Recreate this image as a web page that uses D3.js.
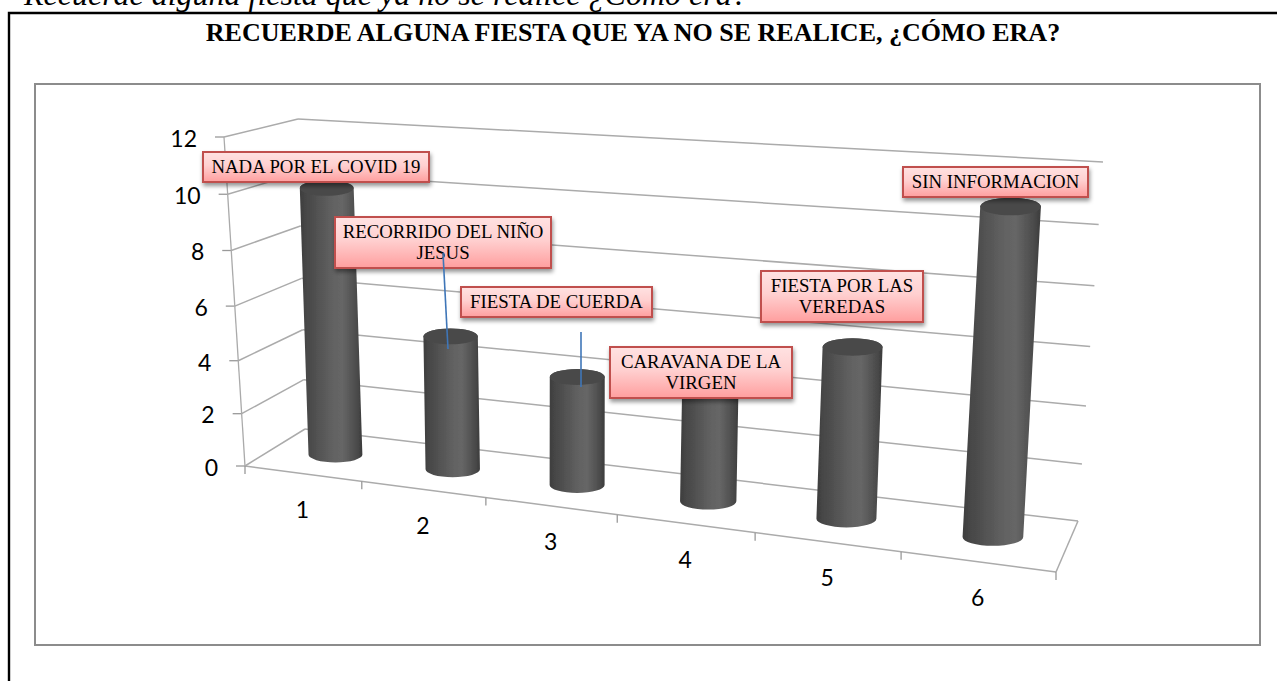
<!DOCTYPE html>
<html><head><meta charset="utf-8">
<script src="https://cdn.jsdelivr.net/npm/d3@7"></script>
<style>html,body{margin:0;padding:0;background:#fff;overflow:hidden}svg{display:block}</style>
</head><body><div id="c"></div>
<script>
// ---- data ----
const categories = ["1","2","3","4","5","6"];
const values = [10,5,4,4,6,11];
const valueTicks = [0,2,4,6,8,10,12];
const labelLines = [
  ["NADA POR EL COVID 19"],
  ["RECORRIDO DEL NIÑO","JESUS"],
  ["FIESTA DE CUERDA"],
  ["CARAVANA DE LA","VIRGEN"],
  ["FIESTA POR LAS","VEREDAS"],
  ["SIN INFORMACION"]
];
const pageHeading = "Recuerde alguna fiesta que ya no se realice ¿Cómo era?";
const chartTitle = "RECUERDE ALGUNA FIESTA QUE YA NO SE REALICE, ¿CÓMO ERA?";

// ---- layout (annotation boxes, not data) ----
const labelBoxes = [[203,152,226,30],[335,217,216,51],[461,287,191,30],[610,347,182,51],[761,271,162,51],[903,167,185,30]];
const leaders = [[443,253,448,349],[581,332,581,387]];

const W=1277,H=681;
const svg=d3.select("#c").append("svg").attr("width",W).attr("height",H);
const defs=svg.append("defs");

// ---- projection of the 3D box ----
const catT=d3.scaleLinear().domain(d3.range(7)).range([0,.144,.297,.459,.629,.809,1]);
const frac=d3.scaleLinear().domain(valueTicks).range([0,.159,.32,.486,.655,.826,1]);
const corner=(a,b)=>v=>a+(b-a)*frac(v);
const FLx=corner(245,224), FLy=corner(466,137);
const BLx=corner(305,298), BLy=corner(429,119);
const BRx=corner(1078,1103), BRy=corner(521,162);
const FRx=corner(1056,1076), FRy=corner(572,198);
const lerp=d3.interpolateNumber;
function P(c,depth,v){
  const u=catT(c);
  const fx=lerp(FLx(v),FRx(v))(u), fy=lerp(FLy(v),FRy(v))(u);
  const bx=lerp(BLx(v),BRx(v))(u), by=lerp(BLy(v),BRy(v))(u);
  return [lerp(fx,bx)(depth),lerp(fy,by)(depth)];
}
const radius=d3.scaleLinear([0,.5,.72,1],[26.8,27.7,30,30.5]);

// ---- frames ----
svg.append("rect").attr("x",35).attr("y",84).attr("width",1225).attr("height",561).attr("fill","#fff").attr("stroke","#8c8c8c").attr("stroke-width",2);
svg.append("path").attr("d","M9,681V13H1277").attr("fill","none").attr("stroke","#000").attr("stroke-width",2.4);

// ---- headings ----
svg.append("text").attr("x",24).attr("y",5).attr("font-family","Liberation Serif").attr("font-style","italic").attr("font-size",32).text(pageHeading);
svg.append("text").attr("x",633).attr("y",41).attr("text-anchor","middle").attr("font-family","Liberation Serif").attr("font-weight","bold").attr("font-size",26).attr("fill","#000").text(chartTitle);

// ---- blur + gradients ----
defs.append("filter").attr("id","soft").attr("x","-5%").attr("y","-5%").attr("width","110%").attr("height","110%").append("feGaussianBlur").attr("stdDeviation",.6);
const shadow=defs.append("filter").attr("id","shadow").attr("x","-10%").attr("y","-20%").attr("width","120%").attr("height","150%");
shadow.append("feDropShadow").attr("dx",1).attr("dy",3).attr("stdDeviation",2.2).attr("flood-color","#000").attr("flood-opacity",.42);
const body=defs.append("linearGradient").attr("id","cyl");
[[0,"#3e3e3e"],[.12,"#484848"],[.55,"#636363"],[.68,"#666"],[.9,"#4c4c4c"],[1,"#3c3c3c"]].forEach(s=>body.append("stop").attr("offset",s[0]).attr("stop-color",s[1]));
const pink=defs.append("linearGradient").attr("id","pink").attr("x1",0).attr("x2",0).attr("y1",0).attr("y2",1);
[[0,"#ffe2e2"],[.45,"#ffd0d0"],[1,"#ff9e9e"]].forEach(s=>pink.append("stop").attr("offset",s[0]).attr("stop-color",s[1]));

// ---- box walls ----
const chart=svg.append("g").attr("filter","url(#soft)");
const gridC="#ababab", gridW=1.5;
const seg=(g,x1,y1,x2,y2,w,c)=>g.append("line").attr("x1",x1).attr("y1",y1).attr("x2",x2).attr("y2",y2).attr("stroke",c||gridC).attr("stroke-width",w||gridW);
valueTicks.forEach(v=>{
  seg(chart,FLx(v),FLy(v),BLx(v),BLy(v));
  seg(chart,BLx(v),BLy(v),BRx(v),BRy(v));
  seg(chart,FLx(v)-9,FLy(v),FLx(v),FLy(v),1.3,"#999");
});
seg(chart,FLx(0),FLy(0),FLx(12),FLy(12),1.3,"#aaa");
seg(chart,FLx(0),FLy(0),FRx(0),FRy(0));
seg(chart,FRx(0),FRy(0),BRx(0),BRy(0));
d3.range(7).forEach(i=>{const p=P(i,0,0);seg(chart,p[0],p[1],p[0],p[1]+8,1.3,"#999");});

// ---- cylinders ----
categories.forEach((c,i)=>{
  const u=catT(i+.5), rx=radius(u), ry=rx*.29;
  const b=[P(i+.5,.56,0)[0],P(i+.5,.5,0)[1]], t=[P(i+.5,.56,values[i])[0],P(i+.5,.5,values[i])[1]];
  const d=`M${t[0]-rx},${t[1]}L${b[0]-rx},${b[1]}A${rx},${ry} 0 0 0 ${b[0]+rx},${b[1]}L${t[0]+rx},${t[1]}A${rx},${ry} 0 0 0 ${t[0]-rx},${t[1]}Z`;
  chart.append("path").attr("d",d).attr("fill","url(#cyl)");
  chart.append("ellipse").attr("cx",t[0]).attr("cy",t[1]).attr("rx",rx).attr("ry",ry).attr("fill","#4a4a4a");
});

// ---- axis labels ----
const axisFont="Lato";
valueTicks.forEach(v=>{
  svg.append("text").attr("x",FLx(v)-27).attr("y",FLy(v)+1.5).attr("dy",".36em").attr("text-anchor","end")
    .attr("font-family",axisFont).attr("font-size",23).attr("fill","#000").text(v);
});
categories.forEach((c,i)=>{
  const p=P(i+.5,0,0);
  svg.append("text").attr("x",p[0]-1).attr("y",p[1]+36).attr("dy",".36em").attr("text-anchor","middle")
    .attr("font-family",axisFont).attr("font-size",23).attr("fill","#000").text(c);
});

// ---- callouts ----
labelLines.forEach((lines,i)=>{
  const [x,y,w,h]=labelBoxes[i];
  svg.append("rect").attr("x",x).attr("y",y).attr("width",w).attr("height",h).attr("fill","url(#pink)").attr("stroke","#c0504d").attr("stroke-width",2).attr("filter","url(#shadow)");
  lines.forEach((ln,k)=>{
    const ty=y+h/2+(k-(lines.length-1)/2)*21+6;
    svg.append("text").attr("x",x+w/2).attr("y",ty).attr("text-anchor","middle")
      .attr("font-family","Liberation Serif").attr("font-size",18.8).attr("fill","#000").text(ln);
  });
});
leaders.forEach(l=>seg(svg,l[0],l[1],l[2],l[3],1.6,"#3f76b8"));
</script></body></html>
